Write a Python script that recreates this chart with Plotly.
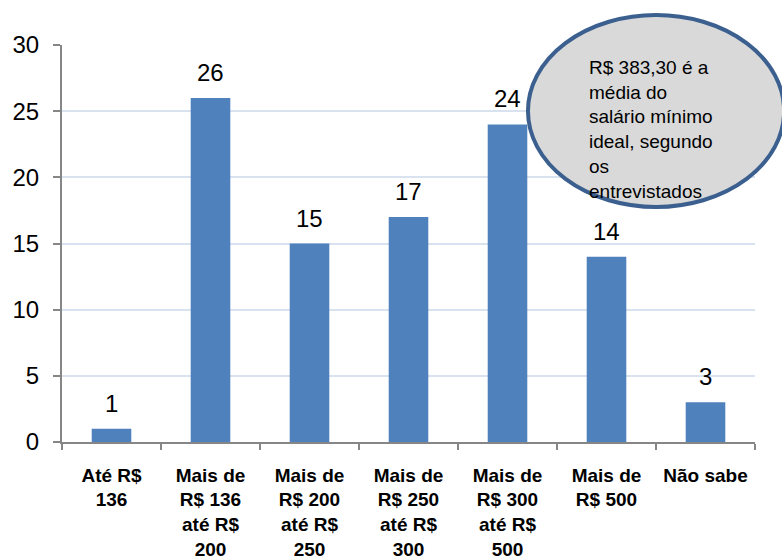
import plotly.graph_objects as go

categories = ["<b>Até R$<br>136</b>", "<b>Mais de<br>R$ 136<br>até R$<br>200</b>", "<b>Mais de<br>R$ 200<br>até R$<br>250</b>",
              "<b>Mais de<br>R$ 250<br>até R$<br>300</b>", "<b>Mais de<br>R$ 300<br>até R$<br>500</b>", "<b>Mais de<br>R$ 500</b>", "<b>Não sabe</b>"]
values = [1, 26, 15, 17, 24, 14, 3]
y_ticks = [0, 5, 10, 15, 20, 25, 30]
note_text = "R$ 383,30 é a<br>média do<br>salário mínimo<br>ideal, segundo<br>os<br>entrevistados"

fig = go.Figure()
fig.add_trace(go.Bar(x=categories, y=values, marker=dict(color="#4F81BD", line=dict(width=0)),
                     width=0.4, hoverinfo="skip"))

for c, v in zip(categories, values):
    fig.add_annotation(x=c, y=v, text=str(v), showarrow=False, yanchor="bottom", yshift=10,
                       font=dict(family="Arial, Liberation Sans", size=24, color="#000000"))

fig.update_layout(
    width=782, height=559,
    margin=dict(l=62, r=27, t=45, b=117),
    paper_bgcolor="white", plot_bgcolor="white",
    showlegend=False,
    font=dict(family="Arial, Liberation Sans", color="#000000"),
    xaxis=dict(type="category", showgrid=False, showline=True, linecolor="#868686", linewidth=1.5,
               ticks="outside", tickson="boundaries", ticklen=6, tickcolor="#868686", tickwidth=1.5,
               tickfont=dict(size=19, family="Arial, Liberation Sans", color="#000000"),
               ticklabelstandoff=15, automargin=False),
    yaxis=dict(range=[0, 30], tickvals=y_ticks, showgrid=True, gridcolor="#D9E2EF", gridwidth=1.5,
               showline=True, linecolor="#868686", linewidth=2, ticks="outside", ticklen=7,
               tickcolor="#868686", tickwidth=1.5, zeroline=False, automargin=False,
               ticklabelstandoff=9,
               tickfont=dict(size=24, family="Arial, Liberation Sans", color="#000000")),
)

fig.add_shape(type="circle", xref="paper", yref="paper", x0=0.6724, x1=1.042, y0=0.592, y1=1.0756,
              fillcolor="#D9D9D9", line=dict(color="#3B5F8E", width=4), layer="above")
fig.add_annotation(xref="paper", yref="paper", x=0.7576, y=0.975, xanchor="left", yanchor="top",
                   align="left", showarrow=False, text=note_text,
                   font=dict(family="Arial, Liberation Sans", size=19, color="#000000"))

fig.write_html("out.html", config={"displayModeBar": False},
               post_script="document.body.style.margin='0';document.body.style.overflow='hidden';")
